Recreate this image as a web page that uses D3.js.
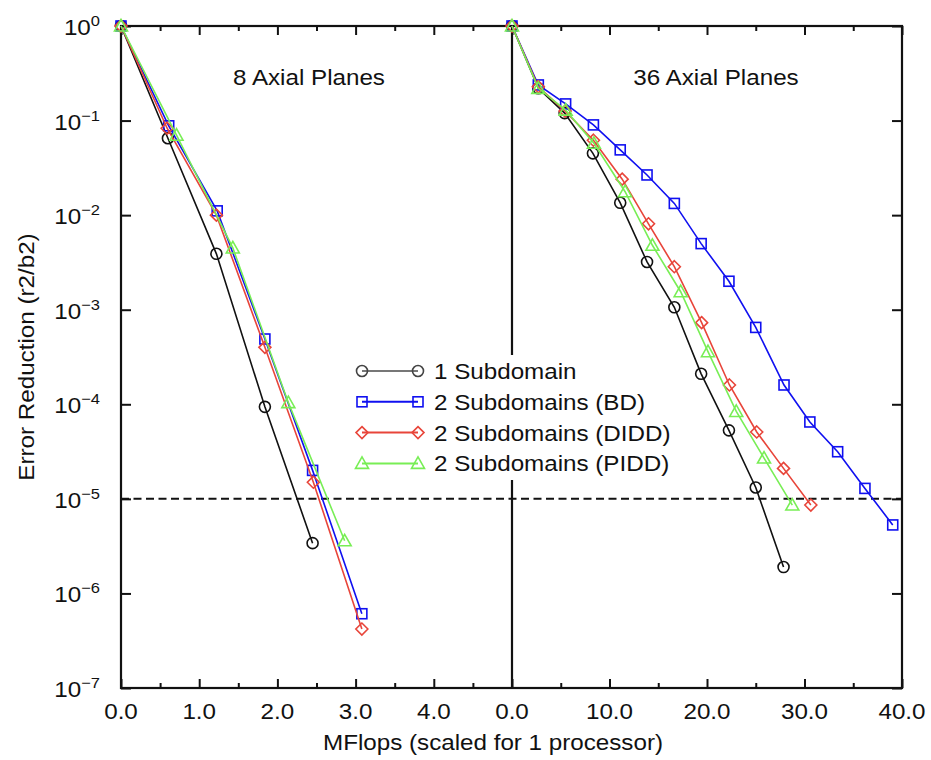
<!DOCTYPE html>
<html>
<head>
<meta charset="utf-8">
<script src="https://cdn.jsdelivr.net/npm/d3@7"></script>
<style>
  body { margin: 0; background: #fff; }
  svg text { font-family: "Liberation Sans", Arial, Helvetica, sans-serif; fill: #111; }
</style>
</head>
<body>
<svg id="chart" width="931" height="760"></svg>
<script>
// --- data ---
const seriesNames = ['1 Subdomain', '2 Subdomains (BD)', '2 Subdomains (DIDD)', '2 Subdomains (PIDD)'];

// 8 axial planes (left panel)
const left1x = [0, 0.6, 1.22, 1.84, 2.45];
const left1y = [1, 0.065, 3.9e-3, 9.4e-5, 3.4e-6];
const leftBDx = [0, 0.61, 1.23, 1.84, 2.45, 3.08];
const leftBDy = [1, 0.088, 0.0111, 4.9e-4, 2.0e-5, 6.1e-7];
const leftDIDDx = [0, 0.59, 1.22, 1.84, 2.46, 3.08];
const leftDIDDy = [1, 0.083, 0.010, 4.0e-4, 1.5e-5, 4.2e-7];
const leftPIDDx = [0, 0.71, 1.43, 2.14, 2.86];
const leftPIDDy = [1, 0.070, 4.5e-3, 1.04e-4, 3.6e-6];

// 36 axial planes (right panel)
const right1x = [0, 2.7, 5.4, 8.3, 11.1, 13.85, 16.65, 19.4, 22.25, 25.0, 27.85];
const right1y = [1, 0.22, 0.12, 0.045, 0.0135, 3.2e-3, 1.06e-3, 2.1e-4, 5.3e-5, 1.32e-5, 1.9e-6];
const rightBDx = [0, 2.7, 5.5, 8.35, 11.1, 13.85, 16.65, 19.4, 22.25, 25.0, 27.9, 30.55, 33.4, 36.2, 39.05];
const rightBDy = [1, 0.238, 0.150, 0.090, 0.049, 0.0266, 0.0133, 5.0e-3, 2.0e-3, 6.5e-4, 1.6e-4, 6.5e-5, 3.15e-5, 1.29e-5, 5.3e-6];
const rightDIDDx = [0, 2.7, 5.45, 8.35, 11.3, 14.0, 16.65, 19.45, 22.3, 25.1, 27.85, 30.65];
const rightDIDDy = [1, 0.228, 0.126, 0.062, 0.024, 8.1e-3, 2.85e-3, 7.3e-4, 1.6e-4, 5.1e-5, 2.1e-5, 8.6e-6];
const rightPIDDx = [0, 2.7, 5.5, 8.4, 11.6, 14.4, 17.3, 20.1, 23.0, 25.85, 28.75];
const rightPIDDy = [1, 0.219, 0.129, 0.0575, 0.0177, 4.8e-3, 1.55e-3, 3.6e-4, 8.4e-5, 2.7e-5, 8.6e-6];

const yTickExp = [0, -1, -2, -3, -4, -5, -6, -7];
const leftTicks = [0, 1, 2, 3, 4];
const leftMinor = [0.5, 1.5, 2.5, 3.5, 4.5];
const rightTicks = [0, 10, 20, 30, 40];
const rightMinor = [5, 15, 25, 35];
const threshold = 1e-5;

const colors = ['#111111', '#1010f0', '#e8453a', '#78ee55'];
const legendLineColors = ['#777777', '#1010f0', '#e8453a', '#78ee55'];
const shapes = ['circle', 'square', 'diamond', 'triangle'];

// --- layout ---
const svg = d3.select('#chart');
const yTop = 26, yBottom = 688, xLeft = 121, xMid = 512, xRight = 902;
const FS = 22, SX = 1.1;

const y = d3.scaleLog().domain([1, 1e-7]).range([yTop, yBottom]);
const xL = d3.scaleLinear().domain([0, 5]).range([xLeft, xMid]);
const xR = d3.scaleLinear().domain([0, 40]).range([xMid, xRight]);

function txt(g, x, yy, s, anchor, size) {
  return g.append('text')
    .attr('transform', `translate(${x},${yy}) scale(${SX},1)`)
    .attr('text-anchor', anchor || 'middle')
    .style('font-size', (size || FS) + 'px')
    .text(s);
}

// ticks via d3 axes (inward)
function tickAxis(gen, scale, vals, size, ty) {
  const g = svg.append('g').attr('transform', `translate(0,${ty})`)
    .call(gen(scale).tickValues(vals).tickSize(size).tickFormat(''));
  g.select('.domain').remove();
  g.selectAll('line').attr('stroke', '#111').attr('stroke-width', 2);
}
[[xL, leftTicks, leftMinor], [xR, rightTicks, rightMinor]].forEach(([sc, maj, mn]) => {
  tickAxis(d3.axisBottom, sc, maj, -9, yBottom);
  tickAxis(d3.axisBottom, sc, mn, -5, yBottom);
  tickAxis(d3.axisTop, sc, maj, -9, yTop);
  tickAxis(d3.axisTop, sc, mn, -5, yTop);
});
const yVals = yTickExp.map(e => Math.pow(10, e));
let ga = svg.append('g').attr('transform', `translate(${xLeft},0)`)
  .call(d3.axisLeft(y).tickValues(yVals).tickSize(-10).tickFormat(''));
ga.select('.domain').remove();
ga.selectAll('line').attr('stroke', '#111').attr('stroke-width', 2);
ga = svg.append('g').attr('transform', `translate(${xRight},0)`)
  .call(d3.axisRight(y).tickValues(yVals).tickSize(-10).tickFormat(''));
ga.select('.domain').remove();
ga.selectAll('line').attr('stroke', '#111').attr('stroke-width', 2);

// tick labels
leftTicks.forEach(v => txt(svg, xL(v), 719, v.toFixed(1)));
rightTicks.forEach(v => txt(svg, xR(v), 719, v.toFixed(1)));
yTickExp.forEach(e => {
  const t = svg.append('text')
    .attr('transform', `translate(100,${y(Math.pow(10, e)) + 9}) scale(${SX},1)`)
    .attr('text-anchor', 'end')
    .style('font-size', FS + 'px');
  t.append('tspan').text('10');
  t.append('tspan').attr('dy', -9).style('font-size', '15px').text(e === 0 ? '0' : '\u2212' + (-e));
});

// axis titles
txt(svg, 493, 750, 'MFlops (scaled for 1 processor)');
svg.append('text')
  .attr('transform', `translate(34,357) rotate(-90) scale(${SX},1)`)
  .attr('text-anchor', 'middle')
  .style('font-size', FS + 'px')
  .text('Error Reduction (r2/b2)');

// panel titles
txt(svg, 309, 85, '8 Axial Planes');
txt(svg, 716, 85, '36 Axial Planes');

// threshold line
svg.append('line')
  .attr('x1', xLeft).attr('x2', xRight)
  .attr('y1', y(threshold)).attr('y2', y(threshold))
  .attr('stroke', '#111').attr('stroke-width', 2).attr('stroke-dasharray', '8,4.5');

// frame + divider
svg.append('rect').attr('x', xLeft).attr('y', yTop).attr('width', xRight - xLeft).attr('height', yBottom - yTop)
  .attr('fill', 'none').attr('stroke', '#111').attr('stroke-width', 2.2);
svg.append('line').attr('x1', xMid).attr('x2', xMid).attr('y1', yTop).attr('y2', yBottom)
  .attr('stroke', '#111').attr('stroke-width', 2.2);

// markers
function marker(g, shape, cx, cy, color) {
  const sw = 1.6;
  if (shape === 'circle') {
    g.append('circle').attr('cx', cx).attr('cy', cy).attr('r', 5.5)
      .attr('fill', 'none').attr('stroke', color).attr('stroke-width', sw);
  } else if (shape === 'square') {
    g.append('rect').attr('x', cx - 5).attr('y', cy - 5).attr('width', 10).attr('height', 10)
      .attr('fill', 'none').attr('stroke', color).attr('stroke-width', sw);
  } else if (shape === 'diamond') {
    g.append('path').attr('d', `M${cx},${cy - 6}L${cx + 6},${cy}L${cx},${cy + 6}L${cx - 6},${cy}Z`)
      .attr('fill', 'none').attr('stroke', color).attr('stroke-width', sw);
  } else {
    g.append('path').attr('d', `M${cx},${cy - 6.5}L${cx + 6.5},${cy + 5}L${cx - 6.5},${cy + 5}Z`)
      .attr('fill', 'none').attr('stroke', color).attr('stroke-width', sw);
  }
}

// legend (opaque box)
const lg = svg.append('g');
lg.append('rect').attr('x', 352).attr('y', 355).attr('width', 330).attr('height', 125).attr('fill', '#fff');
seriesNames.forEach((name, i) => {
  const ly = 371 + i * 30.8;
  lg.append('line').attr('x1', 362).attr('x2', 418).attr('y1', ly).attr('y2', ly)
    .attr('stroke', legendLineColors[i]).attr('stroke-width', 2);
  marker(lg, shapes[i], 362, ly, colors[i] === '#111111' ? '#444' : colors[i]);
  marker(lg, shapes[i], 418, ly, colors[i] === '#111111' ? '#444' : colors[i]);
  txt(lg, 434, ly + 8, name, 'start');
});

// series
const panels = [
  { x: xL, data: [[left1x, left1y], [leftBDx, leftBDy], [leftDIDDx, leftDIDDy], [leftPIDDx, leftPIDDy]] },
  { x: xR, data: [[right1x, right1y], [rightBDx, rightBDy], [rightDIDDx, rightDIDDy], [rightPIDDx, rightPIDDy]] }
];
panels.forEach(p => {
  p.data.forEach(([xs, ys], i) => {
    const pts = xs.map((v, k) => [p.x(v), y(ys[k])]);
    const g = svg.append('g');
    g.append('path').attr('d', d3.line()(pts))
      .attr('fill', 'none').attr('stroke', colors[i]).attr('stroke-width', 1.6);
    pts.forEach(pt => marker(g, shapes[i], pt[0], pt[1], colors[i]));
  });
});
</script>
</body>
</html>
